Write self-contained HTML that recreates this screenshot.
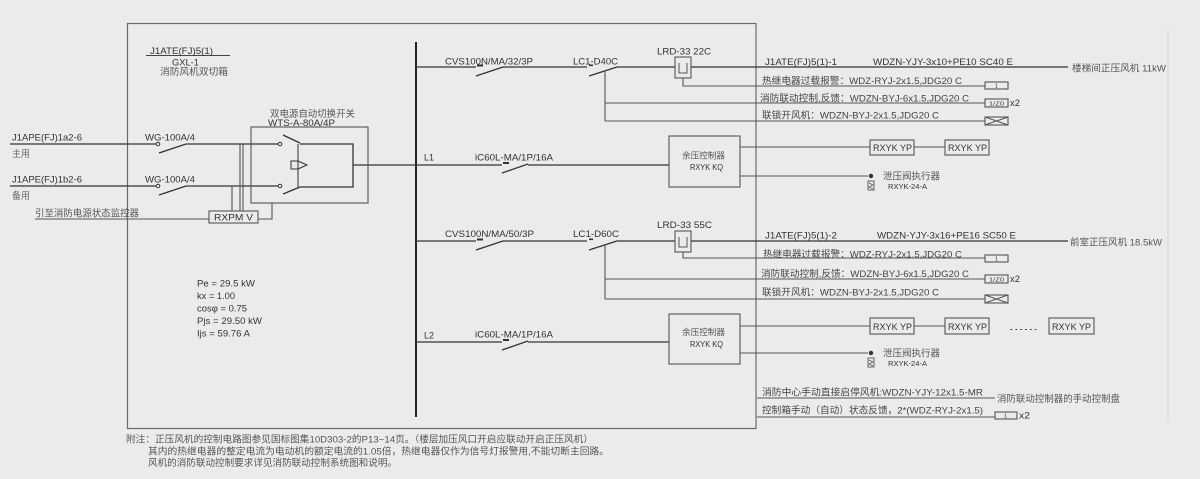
<!DOCTYPE html>
<html><head><meta charset="utf-8"><style>
html,body{margin:0;padding:0;background:#ebebeb;}
svg{display:block;}
text{font-family:"Liberation Sans","Noto Sans CJK SC",sans-serif;}
</style></head><body>
<svg width="1200" height="479" viewBox="0 0 1200 479" xmlns="http://www.w3.org/2000/svg">
<rect width="1200" height="479" fill="#ebebeb"/>
<!-- faint right border -->
<line x1="1168" y1="30" x2="1168" y2="420" stroke="#d6d6d6" stroke-width="1"/>
<!-- main frame -->
<rect x="127.5" y="23.5" width="628.5" height="405" fill="none" stroke="#6a6a6a" stroke-width="1.2"/>
<!-- bus -->
<line x1="416" y1="42" x2="416" y2="417" stroke="#222" stroke-width="2"/>

<g fill="none" stroke="#333" stroke-width="1.3">
  <!-- left incoming lines -->
  <path d="M10,144 H156 M159,153 L186,144 M186,144 H278"/>
  <path d="M10,186 H156 M159,195 L186,186 M186,186 H278"/>
  <circle cx="158" cy="144" r="1.8" stroke-width="1"/>
  <circle cx="158" cy="186" r="1.8" stroke-width="1"/>
  <!-- ATS internals -->
  <circle cx="280" cy="144" r="1.8" stroke-width="1"/>
  <circle cx="280" cy="186" r="1.8" stroke-width="1"/>
  <path d="M283,135 L300,143 M300,144 H353 V187 H300 M283,194 L300,187"/>
  <path d="M298,144 V187" stroke-width="1"/>
  <rect x="291" y="161" width="7" height="8" stroke-width="1"/>
  <path d="M298,161 L307,165 L298,169" stroke-width="1"/>
  <path d="M353,165 H502"/>
  <!-- L1 -->
  <path d="M502,173 L528,164 M528,165 H669"/>
  <!-- L2 -->
  <path d="M416,342 H502 M502,350 L528,341 M528,342 H669"/>
  <!-- Branch 1 -->
  <path d="M416,67 H476 M476,76 L503,67 M503,67 H587 M589,76 L617,67 M617,67 H675 M691,67 H1068"/>
  <!-- Branch 2 -->
  <path d="M416,241 H476 M476,250 L503,241 M503,241 H587 M589,250 L617,241 M617,241 H675 M691,241 H1068"/>
</g>

<g fill="none" stroke="#555" stroke-width="1.1">
  <rect x="251" y="127" width="117" height="76"/>
  <rect x="209" y="211" width="49" height="12"/>
  <path d="M232,186 V211 M240,144 V211 M243,144 V211"/>
  <path d="M258,219 H272 V203"/>
  <path d="M35,219 H209"/>
  <!-- LRD boxes -->
  <rect x="675" y="57" width="16" height="21"/>
  <path d="M679,63 V73 H687 V63" stroke-width="1"/>
  <rect x="675" y="231" width="16" height="21"/>
  <path d="M679,237 V247 H687 V237" stroke-width="1"/>
  <!-- branch 1 control lines -->
  <path d="M683,78 V86 H985"/>
  <path d="M605,71 V121 M605,103 H985 M605,121 H985"/>
  <rect x="985" y="82" width="23" height="7"/>
  <rect x="985" y="99" width="23" height="8"/>
  <rect x="985" y="117" width="23" height="8"/>
  <path d="M985,117 L996.5,121 L985,125 M1008,117 L996.5,121 L1008,125" stroke-width="1"/>
  <!-- branch 2 control lines -->
  <path d="M683,252 V258 H985"/>
  <path d="M605,245 V299 M605,279 H985 M605,299 H985"/>
  <rect x="985" y="255" width="23" height="7"/>
  <rect x="985" y="275" width="23" height="8"/>
  <rect x="985" y="295" width="23" height="8"/>
  <path d="M985,295 L996.5,299 L985,303 M1008,295 L996.5,299 L1008,303" stroke-width="1"/>
  <!-- controller boxes -->
  <rect x="669" y="136" width="71" height="51"/>
  <rect x="669" y="314" width="71" height="50"/>
  <path d="M740,147 H870 M914,147 H945 M740,176 H868"/>
  <rect x="870" y="140" width="44" height="15"/>
  <rect x="945" y="140" width="44" height="15"/>
  <path d="M740,326 H870 M914,326 H945 M740,353 H868"/>
  <rect x="870" y="318" width="44" height="16"/>
  <rect x="945" y="318" width="44" height="16"/>
  <rect x="1049" y="318" width="45" height="16"/>
  <!-- valve symbols -->
  <rect x="868" y="181" width="6" height="9" stroke-width="0.9"/>
  <path d="M869,183 L873,185 L869,187 L873,189" stroke-width="0.7"/>
  <rect x="868" y="358" width="6" height="9" stroke-width="0.9"/>
  <path d="M869,360 L873,362 L869,364 L873,366" stroke-width="0.7"/>
  <!-- bottom right -->
  <path d="M757,398 H995 M757,417 H995"/>
  <rect x="995" y="412" width="22" height="7"/>
</g>
<g fill="#333">
  <circle cx="871" cy="176" r="2.2"/>
  <circle cx="871" cy="353" r="2.2"/>
  <!-- breaker marks -->
  <rect x="477" y="64.5" width="6" height="2"/>
  <rect x="589" y="64.5" width="4" height="1.6"/>
  <rect x="477" y="238.5" width="6" height="2"/>
  <rect x="589" y="238.5" width="4" height="1.6"/>
  <rect x="503" y="162" width="6" height="2"/>
  <rect x="503" y="339" width="6" height="2"/>
</g>
<line x1="146" y1="55.5" x2="230" y2="55.5" stroke="#444" stroke-width="1"/>

<g fill="#333" font-size="9.5" lengthAdjust="spacingAndGlyphs">
  <text x="150" y="54" textLength="63" lengthAdjust="spacingAndGlyphs">J1ATE(FJ)5(1)</text>
  <text x="172" y="65.5" textLength="27" lengthAdjust="spacingAndGlyphs">GXL-1</text>
  <text x="160" y="75" textLength="68" lengthAdjust="spacingAndGlyphs" fill="#555">消防风机双切箱</text>
  <text x="270" y="117" textLength="85" lengthAdjust="spacingAndGlyphs" fill="#555">双电源自动切换开关</text>
  <text x="268" y="126" textLength="67" lengthAdjust="spacingAndGlyphs">WTS-A-80A/4P</text>
  <text x="12" y="140.5" textLength="70" lengthAdjust="spacingAndGlyphs">J1APE(FJ)1a2-6</text>
  <text x="12" y="157" textLength="18" lengthAdjust="spacingAndGlyphs" fill="#666">主用</text>
  <text x="145" y="140.5" textLength="50" lengthAdjust="spacingAndGlyphs">WG-100A/4</text>
  <text x="12" y="182.5" textLength="70" lengthAdjust="spacingAndGlyphs">J1APE(FJ)1b2-6</text>
  <text x="12" y="199" textLength="18" lengthAdjust="spacingAndGlyphs" fill="#666">备用</text>
  <text x="145" y="182.5" textLength="50" lengthAdjust="spacingAndGlyphs">WG-100A/4</text>
  <text x="35" y="216.5" textLength="104" lengthAdjust="spacingAndGlyphs" fill="#555">引至消防电源状态监控器</text>
  <text x="214" y="220.5" textLength="39" lengthAdjust="spacingAndGlyphs">RXPM V</text>

  <text x="197" y="286.5" textLength="58" lengthAdjust="spacingAndGlyphs">Pe = 29.5 kW</text>
  <text x="197" y="299" textLength="38" lengthAdjust="spacingAndGlyphs">kx = 1.00</text>
  <text x="197" y="311.5" textLength="50" lengthAdjust="spacingAndGlyphs">cosφ = 0.75</text>
  <text x="197" y="324" textLength="65" lengthAdjust="spacingAndGlyphs">Pjs = 29.50 kW</text>
  <text x="197" y="336.5" textLength="53" lengthAdjust="spacingAndGlyphs">Ijs = 59.76 A</text>

  <!-- branch 1 -->
  <text x="445" y="64.5" textLength="88" lengthAdjust="spacingAndGlyphs">CVS100N/MA/32/3P</text>
  <text x="573" y="64.5" textLength="45" lengthAdjust="spacingAndGlyphs">LC1-D40C</text>
  <text x="657" y="54.5" textLength="54" lengthAdjust="spacingAndGlyphs">LRD-33 22C</text>
  <text x="765" y="65" textLength="72" lengthAdjust="spacingAndGlyphs">J1ATE(FJ)5(1)-1</text>
  <text x="873" y="65" textLength="140" lengthAdjust="spacingAndGlyphs">WDZN-YJY-3x10+PE10 SC40 E</text>
  <text x="1072" y="71.5" textLength="94" lengthAdjust="spacingAndGlyphs" fill="#555">楼梯间正压风机 11kW</text>
  <text x="762" y="84" textLength="200" lengthAdjust="spacingAndGlyphs" fill="#444">热继电器过载报警：WDZ-RYJ-2x1.5,JDG20 C</text>
  <text x="760" y="101.5" textLength="209" lengthAdjust="spacingAndGlyphs" fill="#444">消防联动控制,反馈：WDZN-BYJ-6x1.5,JDG20 C</text>
  <text x="762" y="118.5" textLength="177" lengthAdjust="spacingAndGlyphs" fill="#444">联锁开风机：WDZN-BYJ-2x1.5,JDG20 C</text>
  <text x="1010" y="106" textLength="10" lengthAdjust="spacingAndGlyphs">x2</text>

  <!-- L1 -->
  <text x="424" y="160.5" textLength="10" lengthAdjust="spacingAndGlyphs">L1</text>
  <text x="475" y="160.5" textLength="78" lengthAdjust="spacingAndGlyphs">iC60L-MA/1P/16A</text>
  <text x="682" y="158.5" textLength="43" lengthAdjust="spacingAndGlyphs" font-size="8.5" fill="#555">余压控制器</text>
  <text x="690" y="170" textLength="33" lengthAdjust="spacingAndGlyphs" font-size="8">RXYK KQ</text>
  <text x="873" y="151" textLength="39" lengthAdjust="spacingAndGlyphs">RXYK YP</text>
  <text x="948" y="151" textLength="39" lengthAdjust="spacingAndGlyphs">RXYK YP</text>
  <text x="883" y="179.5" textLength="57" lengthAdjust="spacingAndGlyphs" fill="#555">泄压阀执行器</text>
  <text x="888" y="189" textLength="39" lengthAdjust="spacingAndGlyphs" font-size="7">RXYK-24-A</text>

  <!-- branch 2 -->
  <text x="445" y="237" textLength="89" lengthAdjust="spacingAndGlyphs">CVS100N/MA/50/3P</text>
  <text x="573" y="237" textLength="46" lengthAdjust="spacingAndGlyphs">LC1-D60C</text>
  <text x="657" y="228" textLength="55" lengthAdjust="spacingAndGlyphs">LRD-33 55C</text>
  <text x="765" y="238.5" textLength="72" lengthAdjust="spacingAndGlyphs">J1ATE(FJ)5(1)-2</text>
  <text x="877" y="238.5" textLength="139" lengthAdjust="spacingAndGlyphs">WDZN-YJY-3x16+PE16 SC50 E</text>
  <text x="1070" y="245.5" textLength="92" lengthAdjust="spacingAndGlyphs" fill="#555">前室正压风机 18.5kW</text>
  <text x="763" y="257.5" textLength="199" lengthAdjust="spacingAndGlyphs" fill="#444">热继电器过载报警：WDZ-RYJ-2x1.5,JDG20 C</text>
  <text x="761" y="277" textLength="208" lengthAdjust="spacingAndGlyphs" fill="#444">消防联动控制,反馈：WDZN-BYJ-6x1.5,JDG20 C</text>
  <text x="762" y="295.5" textLength="177" lengthAdjust="spacingAndGlyphs" fill="#444">联锁开风机：WDZN-BYJ-2x1.5,JDG20 C</text>
  <text x="1010" y="282" textLength="10" lengthAdjust="spacingAndGlyphs">x2</text>

  <!-- L2 -->
  <text x="424" y="338.5" textLength="10" lengthAdjust="spacingAndGlyphs">L2</text>
  <text x="475" y="337.5" textLength="78" lengthAdjust="spacingAndGlyphs">iC60L-MA/1P/16A</text>
  <text x="682" y="335" textLength="43" lengthAdjust="spacingAndGlyphs" font-size="8.5" fill="#555">余压控制器</text>
  <text x="690" y="347" textLength="33" lengthAdjust="spacingAndGlyphs" font-size="8">RXYK KQ</text>
  <text x="873" y="330" textLength="39" lengthAdjust="spacingAndGlyphs">RXYK YP</text>
  <text x="948" y="330" textLength="39" lengthAdjust="spacingAndGlyphs">RXYK YP</text>
  <text x="1009" y="330" textLength="29" lengthAdjust="spacingAndGlyphs">......</text>
  <text x="1052" y="330" textLength="39" lengthAdjust="spacingAndGlyphs">RXYK YP</text>
  <text x="883" y="356.5" textLength="57" lengthAdjust="spacingAndGlyphs" fill="#555">泄压阀执行器</text>
  <text x="888" y="366" textLength="39" lengthAdjust="spacingAndGlyphs" font-size="7">RXYK-24-A</text>

  <!-- bottom right -->
  <text x="762" y="395.5" textLength="221" lengthAdjust="spacingAndGlyphs" fill="#444">消防中心手动直接启停风机:WDZN-YJY-12x1.5-MR</text>
  <text x="997" y="402" textLength="123" lengthAdjust="spacingAndGlyphs" fill="#555">消防联动控制器的手动控制盘</text>
  <text x="762" y="413.5" textLength="221" lengthAdjust="spacingAndGlyphs" fill="#444">控制箱手动（自动）状态反馈，2*(WDZ-RYJ-2x1.5)</text>
  <text x="1019" y="418.5" textLength="11" lengthAdjust="spacingAndGlyphs">x2</text>

  <!-- notes -->
  <text x="126" y="442.5" textLength="467" lengthAdjust="spacingAndGlyphs" fill="#555">附注：正压风机的控制电路图参见国标图集10D303-2的P13~14页。（楼层加压风口开启应联动开启正压风机）</text>
  <text x="148" y="454.5" textLength="461" lengthAdjust="spacingAndGlyphs" fill="#555">其内的热继电器的整定电流为电动机的额定电流的1.05倍，热继电器仅作为信号灯报警用,不能切断主回路。</text>
  <text x="148" y="466" textLength="249" lengthAdjust="spacingAndGlyphs" fill="#555">风机的消防联动控制要求详见消防联动控制系统图和说明。</text>
</g>
<!-- tiny box labels -->
<g fill="#333" font-size="5.5">
  <text x="995" y="87.5">1</text>
  <text x="989" y="105.5" textLength="15" lengthAdjust="spacingAndGlyphs">1/Z0</text>
  <text x="995" y="260.5">1</text>
  <text x="989" y="281.5" textLength="15" lengthAdjust="spacingAndGlyphs">1/Z0</text>
  <text x="1004" y="417.5">1</text>
</g>
</svg>
</body></html>
